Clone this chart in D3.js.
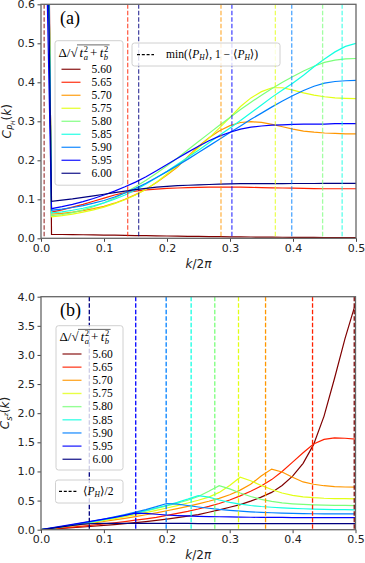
<!DOCTYPE html>
<html>
<head>
<meta charset="utf-8">
<script src="https://cdn.jsdelivr.net/npm/d3@7"></script>
<style>
  body { margin: 0; background: #fff; }
</style>
</head>
<body>
<svg id="chart" width="365" height="563" font-family="DejaVu Sans, sans-serif"></svg>
<script>
// k/2pi grid (n/60, n = 0..30)
const kValues = [0, 0.0167, 0.0333, 0.05, 0.0667, 0.0833, 0.1, 0.1167, 0.1333, 0.15, 0.1667,
  0.1833, 0.2, 0.2167, 0.2333, 0.25, 0.2667, 0.2833, 0.3, 0.3167, 0.3333,
  0.35, 0.3667, 0.3833, 0.4, 0.4167, 0.4333, 0.45, 0.4667, 0.4833, 0.5];

const deltaLabels = ["5.60", "5.65", "5.70", "5.75", "5.80", "5.85", "5.90", "5.95", "6.00"];
const seriesColors = ["#800000", "#ff2100", "#ff9700", "#e2ff15", "#7bff7b", "#15ffe2", "#0080ff", "#0000ff", "#000080"];

const xTicks = [0, 0.1, 0.2, 0.3, 0.4, 0.5];
const yTicksA = [0, 0.1, 0.2, 0.3, 0.4, 0.5, 0.6];
const yTicksB = [0, 0.5, 1.0, 1.5, 2.0, 2.5, 3.0, 3.5, 4.0];

// panel (a): C_{P_H}(k)
const pa560 = [3.0, 0.010, 0.0098, 0.0095, 0.0091, 0.0087, 0.0083, 0.0079, 0.0075, 0.0071, 0.0067, 0.0063, 0.0059, 0.0055, 0.0051, 0.0048, 0.0045, 0.0042, 0.0039, 0.0036, 0.0033, 0.0031, 0.0029, 0.0027, 0.0025, 0.0023, 0.0022, 0.0021, 0.002, 0.0019, 0.0019];
const pa565 = [2.5, 0.067, 0.073, 0.080, 0.087, 0.095, 0.103, 0.111, 0.117, 0.121, 0.124, 0.126, 0.128, 0.129, 0.130, 0.1305, 0.131, 0.131, 0.131, 0.131, 0.1305, 0.130, 0.1295, 0.129, 0.1285, 0.128, 0.1275, 0.127, 0.127, 0.127, 0.127];
const pa570 = [2.5, 0.062, 0.064, 0.067, 0.071, 0.076, 0.082, 0.09, 0.1, 0.112, 0.126, 0.143, 0.162, 0.183, 0.21, 0.236, 0.258, 0.276, 0.289, 0.297, 0.299, 0.297, 0.292, 0.286, 0.28, 0.275, 0.272, 0.27, 0.269, 0.268, 0.268];
const pa575 = [2.5, 0.055, 0.058, 0.062, 0.067, 0.073, 0.08, 0.089, 0.099, 0.111, 0.126, 0.144, 0.165, 0.186, 0.208, 0.232, 0.257, 0.283, 0.31, 0.338, 0.36, 0.376, 0.386, 0.386, 0.38, 0.373, 0.367, 0.363, 0.36, 0.359, 0.358];
const pa580 = [2.5, 0.058, 0.061, 0.066, 0.073, 0.081, 0.091, 0.103, 0.117, 0.132, 0.149, 0.167, 0.186, 0.206, 0.227, 0.248, 0.269, 0.29, 0.31, 0.33, 0.349, 0.367, 0.384, 0.4, 0.415, 0.429, 0.441, 0.451, 0.457, 0.46, 0.461];
const pa585 = [2.5, 0.065, 0.068, 0.072, 0.077, 0.083, 0.091, 0.1, 0.111, 0.124, 0.139, 0.155, 0.172, 0.19, 0.208, 0.226, 0.245, 0.264, 0.283, 0.302, 0.322, 0.342, 0.362, 0.38, 0.398, 0.418, 0.44, 0.46, 0.478, 0.492, 0.5];
const pa590 = [2.2, 0.072, 0.075, 0.079, 0.084, 0.09, 0.097, 0.106, 0.116, 0.128, 0.141, 0.156, 0.171, 0.187, 0.203, 0.22, 0.237, 0.254, 0.271, 0.288, 0.305, 0.321, 0.337, 0.352, 0.366, 0.379, 0.39, 0.398, 0.402, 0.404, 0.405];
const pa595 = [1.4, 0.076, 0.081, 0.087, 0.094, 0.102, 0.111, 0.121, 0.132, 0.144, 0.158, 0.173, 0.189, 0.205, 0.221, 0.236, 0.25, 0.262, 0.272, 0.28, 0.285, 0.288, 0.29, 0.291, 0.292, 0.293, 0.293, 0.293, 0.294, 0.294, 0.294];
const pa600 = [2.0, 0.095, 0.098, 0.101, 0.105, 0.109, 0.113, 0.117, 0.121, 0.125, 0.128, 0.131, 0.133, 0.135, 0.136, 0.137, 0.138, 0.139, 0.1395, 0.14, 0.14, 0.14, 0.14, 0.14, 0.1405, 0.1405, 0.1405, 0.141, 0.141, 0.141, 0.141];
// dashed lines: min(<P_H>, 1-<P_H>)
const phMinA = [0.005, 0.1376, 0.2857, 0.372, 0.447, 0.478, 0.398, 0.303, 0.155];

// panel (b): C_{s^z}(k)
const pb560 = [0, 0.011, 0.022, 0.034, 0.046, 0.059, 0.073, 0.088, 0.104, 0.121, 0.14, 0.16, 0.182, 0.206, 0.232, 0.26, 0.30, 0.34, 0.385, 0.43, 0.49, 0.56, 0.64, 0.76, 0.92, 1.14, 1.46, 1.95, 2.6, 3.28, 3.88];
const pb565 = [0, 0.014, 0.029, 0.045, 0.062, 0.08, 0.099, 0.119, 0.14, 0.163, 0.187, 0.213, 0.245, 0.28, 0.315, 0.355, 0.4, 0.45, 0.51, 0.58, 0.66, 0.75, 0.86, 1.0, 1.16, 1.32, 1.47, 1.55, 1.575, 1.57, 1.555];
const pb570 = [0, 0.021, 0.043, 0.066, 0.09, 0.115, 0.141, 0.168, 0.196, 0.226, 0.257, 0.29, 0.325, 0.362, 0.401, 0.443, 0.488, 0.537, 0.6, 0.68, 0.78, 0.92, 1.04, 0.99, 0.9, 0.82, 0.78, 0.755, 0.74, 0.733, 0.73];
const pb575 = [0, 0.024, 0.049, 0.075, 0.102, 0.13, 0.16, 0.191, 0.224, 0.258, 0.294, 0.332, 0.372, 0.414, 0.458, 0.505, 0.56, 0.64, 0.76, 0.9, 0.84, 0.76, 0.69, 0.63, 0.59, 0.565, 0.55, 0.54, 0.535, 0.532, 0.53];
const pb580 = [0, 0.026, 0.053, 0.082, 0.112, 0.143, 0.176, 0.21, 0.246, 0.284, 0.324, 0.366, 0.41, 0.456, 0.505, 0.57, 0.66, 0.755, 0.7, 0.63, 0.57, 0.52, 0.485, 0.46, 0.445, 0.434, 0.427, 0.422, 0.418, 0.416, 0.415];
const pb585 = [0, 0.025, 0.051, 0.079, 0.108, 0.139, 0.172, 0.207, 0.244, 0.284, 0.327, 0.372, 0.42, 0.47, 0.525, 0.585, 0.56, 0.51, 0.47, 0.44, 0.415, 0.398, 0.385, 0.375, 0.367, 0.36, 0.354, 0.35, 0.346, 0.343, 0.341];
const pb590 = [0, 0.027, 0.055, 0.085, 0.116, 0.149, 0.184, 0.221, 0.26, 0.302, 0.346, 0.395, 0.45, 0.44, 0.415, 0.39, 0.368, 0.348, 0.332, 0.318, 0.307, 0.298, 0.291, 0.285, 0.28, 0.277, 0.274, 0.272, 0.271, 0.27, 0.27];
const pb595 = [0, 0.03, 0.06, 0.09, 0.12, 0.15, 0.18, 0.212, 0.246, 0.285, 0.28, 0.265, 0.252, 0.243, 0.236, 0.23, 0.226, 0.222, 0.219, 0.216, 0.214, 0.212, 0.211, 0.21, 0.209, 0.208, 0.207, 0.207, 0.206, 0.206, 0.206];
const pb600 = [0, 0.024, 0.048, 0.072, 0.095, 0.106, 0.108, 0.108, 0.108, 0.108, 0.107, 0.107, 0.107, 0.107, 0.107, 0.106, 0.106, 0.106, 0.106, 0.106, 0.106, 0.106, 0.106, 0.106, 0.106, 0.106, 0.106, 0.106, 0.106, 0.106, 0.106];
// dashed lines: <P_H>/2
const phHalfB = [0.498, 0.4317, 0.357, 0.314, 0.2763, 0.2387, 0.199, 0.1506, 0.0768];

const seriesA = [pa560, pa565, pa570, pa575, pa580, pa585, pa590, pa595, pa600];
const seriesB = [pb560, pb565, pb570, pb575, pb580, pb585, pb590, pb595, pb600];

const svg = d3.select("#chart");
const mathFont = '"Liberation Serif", "DejaVu Serif", serif';

function drawPanel(cfg) {
  const x = d3.scaleLinear().domain([0, 0.5]).range([cfg.left, cfg.right]);
  const y = d3.scaleLinear().domain(cfg.yDomain).range([cfg.bottom, cfg.top]);
  const g = svg.append("g");

  svg.append("clipPath").attr("id", "clip-" + cfg.name)
    .append("rect")
    .attr("x", cfg.left).attr("y", cfg.top)
    .attr("width", cfg.right - cfg.left).attr("height", cfg.bottom - cfg.top);

  const plot = g.append("g").attr("clip-path", `url(#clip-${cfg.name})`);
  const line = d3.line().x((d, i) => x(kValues[i])).y(d => y(d));

  cfg.series.forEach((s, i) => {
    plot.append("path")
      .attr("d", line(s))
      .attr("fill", "none")
      .attr("stroke", seriesColors[i])
      .attr("stroke-width", 1.2);
  });

  cfg.vlines.forEach((k, i) => {
    plot.append("line")
      .attr("x1", x(k)).attr("x2", x(k))
      .attr("y1", cfg.top).attr("y2", cfg.bottom)
      .attr("stroke", seriesColors[i])
      .attr("stroke-opacity", cfg.vlineAlpha)
      .attr("stroke-width", 1.3)
      .attr("stroke-dasharray", "4.5,2");
  });

  const xAxis = d3.axisBottom(x).tickValues(xTicks).tickFormat(d3.format(".1f")).tickSize(3.5).tickPadding(2.5);
  const yAxis = d3.axisLeft(y).tickValues(cfg.yTicks).tickFormat(d3.format(".1f")).tickSize(3.5).tickPadding(2.5);

  g.append("g").attr("transform", `translate(0,${cfg.bottom})`).call(xAxis).call(styleAxis);
  g.append("g").attr("transform", `translate(${cfg.left},0)`).call(yAxis).call(styleAxis);

  g.append("rect")
    .attr("x", cfg.left).attr("y", cfg.top)
    .attr("width", cfg.right - cfg.left).attr("height", cfg.bottom - cfg.top)
    .attr("fill", "none").attr("stroke", "#666").attr("stroke-width", 1.3);

  // x label k/2pi
  const xl = g.append("text")
    .attr("x", (cfg.left + cfg.right) / 2).attr("y", cfg.xLabelY)
    .attr("text-anchor", "middle").attr("font-size", 12).attr("fill", "#222");
  xl.append("tspan").attr("font-style", "italic").text("k");
  xl.append("tspan").text("/2");
  xl.append("tspan").attr("font-style", "italic").text("π");

  // panel tag
  g.append("text")
    .attr("x", cfg.left + 19).attr("y", cfg.top + 19.5)
    .style("font-family", mathFont).attr("font-size", 18)
    .text(cfg.tag);

  return { x, y, g };
}

function styleAxis(sel) {
  sel.attr("font-family", null).attr("font-size", null);
  sel.select(".domain").remove();
  sel.selectAll(".tick line").attr("stroke", "#444").attr("stroke-width", 1);
  sel.selectAll(".tick text").attr("font-size", 11).attr("fill", "#222");
}

function deltaTitle(g, x, yb) {
  const t = g.append("text").attr("x", x).attr("y", yb)
    .style("font-family", mathFont).attr("font-size", 13);
  t.append("tspan").text("Δ/√");
  t.append("tspan").attr("font-style", "italic").attr("dx", 2).text("t");
  t.append("tspan").attr("font-size", 8.5).attr("dx", 0.5).attr("dy", -5).text("2");
  t.append("tspan").attr("font-size", 8.5).attr("font-style", "italic").attr("dx", -4.3).attr("dy", 8).text("a");
  t.append("tspan").attr("dx", 2).attr("dy", -3).text("+");
  t.append("tspan").attr("font-style", "italic").attr("dx", 2.5).text("t");
  t.append("tspan").attr("font-size", 8.5).attr("dx", 0.5).attr("dy", -5).text("2");
  t.append("tspan").attr("font-size", 8.5).attr("font-style", "italic").attr("dx", -4.3).attr("dy", 8).text("b");
  const node = t.node();
  const xr = node.getEndPositionOfChar(2).x;
  const x1 = node.getEndPositionOfChar(node.getNumberOfChars() - 1).x;
  g.append("line")
    .attr("x1", xr - 0.6).attr("x2", x1 + 1.5)
    .attr("y1", yb - 11.6).attr("y2", yb - 11.6)
    .attr("stroke", "#000").attr("stroke-width", 0.6);
}

function frame(g, x, y, w, h) {
  g.append("rect")
    .attr("x", x).attr("y", y).attr("width", w).attr("height", h)
    .attr("rx", 2.5).attr("ry", 2.5)
    .attr("fill", "#fff").attr("fill-opacity", 0.8)
    .attr("stroke", "#d0d0d0").attr("stroke-width", 1);
}

function drawLegend(g, box, titleY, firstY, step) {
  frame(g, box[0], box[1], box[2], box[3]);
  deltaTitle(g, box[0] + 3.5, titleY);
  deltaLabels.forEach((lab, i) => {
    const yy = firstY + i * step;
    g.append("line")
      .attr("x1", box[0] + 6.5).attr("x2", box[0] + 25.5)
      .attr("y1", yy).attr("y2", yy)
      .attr("stroke", seriesColors[i]).attr("stroke-opacity", 0.8)
      .attr("stroke-width", 1.4);
    g.append("text")
      .attr("x", box[0] + 36.5).attr("y", yy + 3.8)
      .style("font-family", mathFont).attr("font-size", 11.5)
      .text(lab);
  });
}

function yLabel(g, cx, cy, build) {
  const t = g.append("text")
    .attr("transform", `translate(${cx},${cy}) rotate(-90)`)
    .attr("text-anchor", "middle").attr("font-size", 12).attr("fill", "#222");
  build(t);
}

// ---------- panel (a)
const A = drawPanel({
  name: "a", tag: "(a)",
  left: 41, right: 356, top: 4.3, bottom: 238.3,
  yDomain: [0, 0.6], yTicks: yTicksA,
  series: seriesA, vlines: phMinA, vlineAlpha: 0.7,
  xLabelY: 268
});
drawLegend(A.g, [55, 40.7, 68, 144.5], 56.5, 69.3, 13.0);
frame(A.g, 132, 43, 148, 23);
A.g.append("line")
  .attr("x1", 137).attr("x2", 154).attr("y1", 54.7).attr("y2", 54.7)
  .attr("stroke", "#000").attr("stroke-width", 1.2).attr("stroke-dasharray", "3,1.8");
{
  const t = A.g.append("text").attr("x", 166).attr("y", 58.3)
    .style("font-family", mathFont).attr("font-size", 11.5);
  t.append("tspan").text("min(⟨");
  t.append("tspan").attr("font-style", "italic").text("P");
  t.append("tspan").attr("font-style", "italic").attr("font-size", 7.5).attr("dy", 2).text("H");
  t.append("tspan").attr("dy", -2).text("⟩, 1 − ⟨");
  t.append("tspan").attr("font-style", "italic").text("P");
  t.append("tspan").attr("font-style", "italic").attr("font-size", 7.5).attr("dy", 2).text("H");
  t.append("tspan").attr("dy", -2).text("⟩)");
}
yLabel(A.g, 10.5, 121.3, t => {
  t.append("tspan").attr("font-style", "italic").text("C");
  t.append("tspan").attr("font-style", "italic").attr("font-size", 8.5).attr("dy", 3).text("P");
  t.append("tspan").attr("font-style", "italic").attr("font-size", 6).attr("dy", 1.5).text("H");
  t.append("tspan").attr("dy", -4.5).text("(");
  t.append("tspan").attr("font-style", "italic").text("k");
  t.append("tspan").text(")");
});

// ---------- panel (b)
const B = drawPanel({
  name: "b", tag: "(b)",
  left: 41, right: 355.5, top: 296.7, bottom: 529.7,
  yDomain: [0, 4], yTicks: yTicksB,
  series: seriesB, vlines: phHalfB, vlineAlpha: 1,
  xLabelY: 559
});
drawLegend(B.g, [56, 325.7, 67, 144.3], 341, 354, 13.16);
frame(B.g, 55.5, 480, 67.5, 23);
B.g.append("line")
  .attr("x1", 59).attr("x2", 77).attr("y1", 491.3).attr("y2", 491.3)
  .attr("stroke", "#000").attr("stroke-width", 1.2).attr("stroke-dasharray", "3,1.8");
{
  const t = B.g.append("text").attr("x", 83).attr("y", 495.3)
    .style("font-family", mathFont).attr("font-size", 11.5);
  t.append("tspan").text("⟨");
  t.append("tspan").attr("font-style", "italic").text("P");
  t.append("tspan").attr("font-style", "italic").attr("font-size", 7.5).attr("dy", 2).text("H");
  t.append("tspan").attr("dy", -2).text("⟩/2");
}
yLabel(B.g, 8.5, 413, t => {
  t.append("tspan").attr("font-style", "italic").text("C");
  t.append("tspan").attr("font-style", "italic").attr("font-size", 8.5).attr("dy", 3).text("s");
  t.append("tspan").attr("font-style", "italic").attr("font-size", 6).attr("dy", -3.5).text("z");
  t.append("tspan").attr("dy", 0.5).text("(");
  t.append("tspan").attr("font-style", "italic").text("k");
  t.append("tspan").text(")");
});
</script>
</body>
</html>
